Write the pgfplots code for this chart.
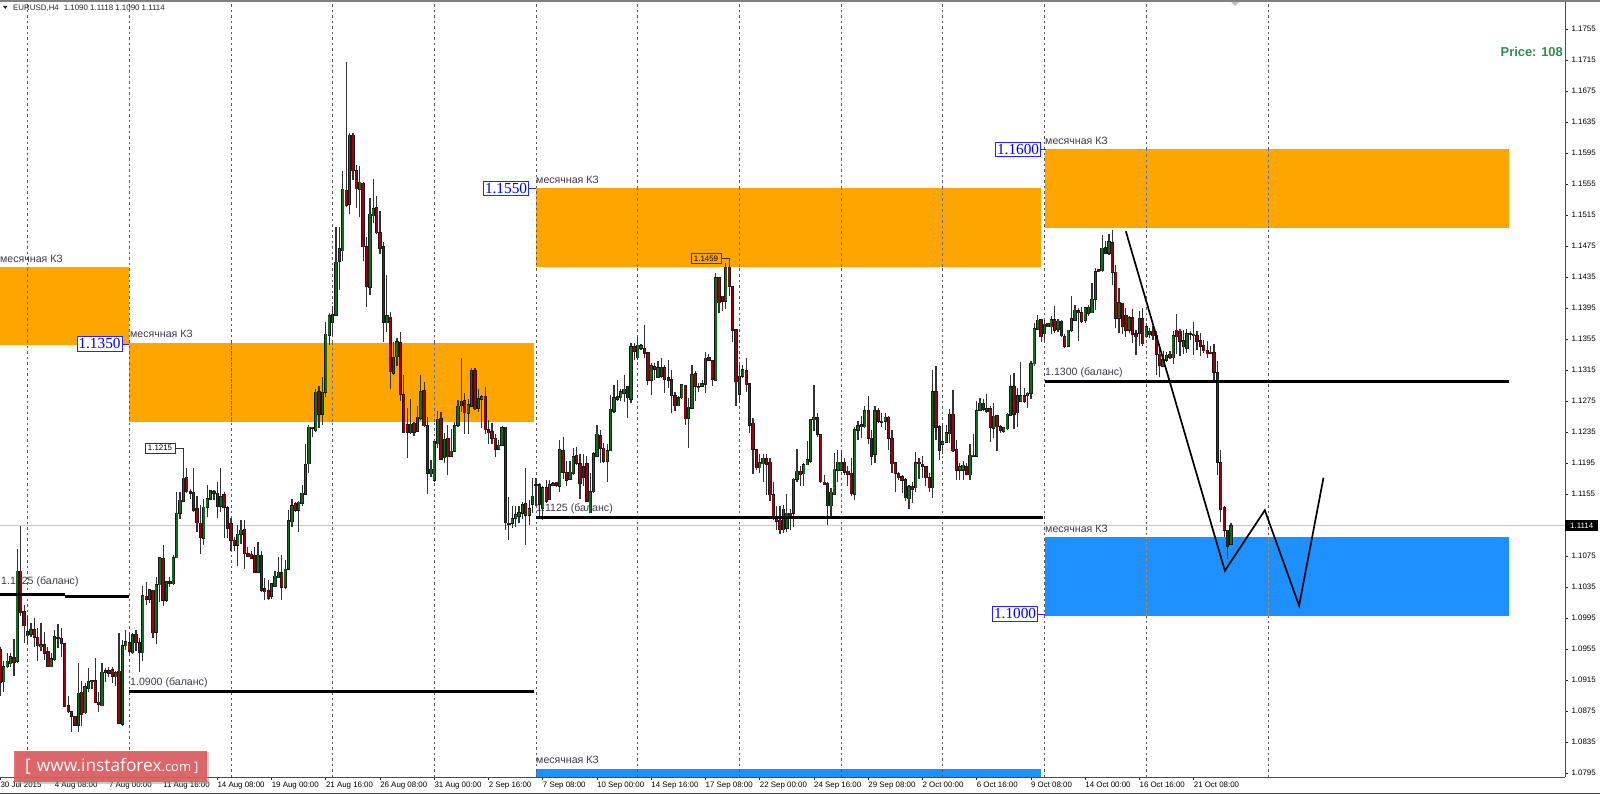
\documentclass[border=0pt]{standalone}
\usepackage{pgfplots}
\usepackage{pgfplotstable}
\usepackage{fontspec}
\pgfplotsset{compat=1.18}
\setmainfont{Liberation Sans}
\newfontfamily\serifbox{Liberation Serif}
\newfontfamily\logofont{Open Sans}
\definecolor{zoneo}{HTML}{FFA500}
\definecolor{zoneb}{HTML}{1E90FF}
\definecolor{upc}{HTML}{0B6F18}
\definecolor{dnc}{HTML}{A0000C}
\definecolor{txt}{HTML}{3F3A4A}
\definecolor{plabel}{HTML}{2E8B57}
\definecolor{bann}{HTML}{DE5A5E}
\definecolor{sepb}{HTML}{4A6FA8}
\definecolor{sepo}{HTML}{C8873A}
\newcommand{\tickf}{\fontsize{7.9}{9}\selectfont}
\newcommand{\lblf}{\fontsize{10.6}{12}\selectfont}
\newcommand{\boxf}{\serifbox\fontsize{15.3}{16}\selectfont}
\pgfplotstableread{
i o h l c
0 1.0954 1.0958 1.0894 1.0912
1 1.0913 1.0939 1.0900 1.0932
2 1.0932 1.0950 1.0930 1.0939
3 1.0936 1.0950 1.0932 1.0945
4 1.0944 1.0968 1.0920 1.0938
5 1.0939 1.1084 1.0937 1.1055
6 1.1055 1.1114 1.0997 1.1002
7 1.1003 1.1012 1.0963 1.0985
8 1.0972 1.0997 1.0962 1.0977
9 1.0974 1.0988 1.0971 1.0980
10 1.0980 1.0995 1.0957 1.0970
11 1.0970 1.0982 1.0940 1.0959
12 1.0958 1.0988 1.0952 1.0960
13 1.0960 1.0977 1.0941 1.0949
14 1.0951 1.0958 1.0932 1.0932
15 1.0932 1.0950 1.0932 1.0942
16 1.0941 1.0980 1.0940 1.0971
17 1.0970 1.0987 1.0956 1.0969
18 1.0969 1.0982 1.0945 1.0962
19 1.0962 1.0962 1.0880 1.0881
20 1.0882 1.0894 1.0872 1.0874
21 1.0874 1.0874 1.0848 1.0868
22 1.0868 1.0868 1.0855 1.0857
23 1.0857 1.0937 1.0848 1.0898
24 1.0899 1.0914 1.0855 1.0870
25 1.0873 1.0911 1.0871 1.0906
26 1.0904 1.0930 1.0900 1.0913
27 1.0913 1.0914 1.0904 1.0914
28 1.0914 1.0944 1.0885 1.0886
29 1.0886 1.0900 1.0874 1.0883
30 1.0882 1.0937 1.0882 1.0925
31 1.0925 1.0930 1.0913 1.0927
32 1.0927 1.0932 1.0919 1.0924
33 1.0928 1.0932 1.0911 1.0920
34 1.0919 1.0926 1.0907 1.0924
35 1.0926 1.0975 1.0859 1.0859
36 1.0858 1.0967 1.0855 1.0959
37 1.0959 1.0980 1.0954 1.0964
38 1.0963 1.0975 1.0949 1.0952
39 1.0950 1.0975 1.0949 1.0973
40 1.0974 1.0980 1.0952 1.0963
41 1.0963 1.0969 1.0925 1.0950
42 1.0950 1.1036 1.0939 1.1024
43 1.1023 1.1042 1.1012 1.1019
44 1.1019 1.1032 1.1014 1.1031
45 1.1030 1.1030 1.0969 1.0976
46 1.0977 1.1048 1.0961 1.1038
47 1.1038 1.1073 1.1016 1.1073
48 1.1072 1.1089 1.1010 1.1018
49 1.1018 1.1042 1.1016 1.1042
50 1.1042 1.1048 1.1035 1.1040
51 1.1039 1.1076 1.1038 1.1073
52 1.1073 1.1158 1.1072 1.1130
53 1.1130 1.1158 1.1123 1.1147
54 1.1146 1.1184 1.1144 1.1175
55 1.1176 1.1188 1.1156 1.1158
56 1.1158 1.1162 1.1149 1.1156
57 1.1157 1.1189 1.1132 1.1134
58 1.1136 1.1152 1.1106 1.1118
59 1.1117 1.1141 1.1078 1.1099
60 1.1098 1.1149 1.1089 1.1138
61 1.1138 1.1167 1.1125 1.1149
62 1.1148 1.1160 1.1147 1.1159
63 1.1156 1.1160 1.1147 1.1158
64 1.1156 1.1171 1.1124 1.1139
65 1.1139 1.1188 1.1132 1.1151
66 1.1154 1.1158 1.1098 1.1138
67 1.1137 1.1139 1.1098 1.1111
68 1.1117 1.1124 1.1081 1.1095
69 1.1095 1.1100 1.1081 1.1089
70 1.1089 1.1115 1.1062 1.1103
71 1.1103 1.1122 1.1091 1.1108
72 1.1109 1.1122 1.1058 1.1078
73 1.1078 1.1087 1.1074 1.1075
74 1.1077 1.1081 1.1072 1.1072
75 1.1075 1.1087 1.1053 1.1054
76 1.1054 1.1093 1.1053 1.1076
77 1.1075 1.1081 1.1029 1.1031
78 1.1033 1.1046 1.1018 1.1029
79 1.1030 1.1044 1.1018 1.1020
80 1.1023 1.1040 1.1020 1.1039
81 1.1036 1.1055 1.1035 1.1049
82 1.1047 1.1074 1.1046 1.1054
83 1.1053 1.1076 1.1018 1.1035
84 1.1035 1.1070 1.1033 1.1058
85 1.1058 1.1134 1.1057 1.1120
86 1.1119 1.1148 1.1113 1.1140
87 1.1142 1.1145 1.1132 1.1134
88 1.1134 1.1146 1.1106 1.1144
89 1.1143 1.1167 1.1139 1.1156
90 1.1155 1.1220 1.1154 1.1193
91 1.1194 1.1244 1.1182 1.1241
92 1.1240 1.1242 1.1228 1.1241
93 1.1237 1.1290 1.1235 1.1286
94 1.1287 1.1294 1.1240 1.1258
95 1.1258 1.1306 1.1244 1.1286
96 1.1286 1.1377 1.1280 1.1361
97 1.1360 1.1388 1.1347 1.1385
98 1.1376 1.1398 1.1360 1.1386
99 1.1386 1.1499 1.1384 1.1454
100 1.1455 1.1500 1.1418 1.1471
101 1.1469 1.1572 1.1456 1.1548
102 1.1547 1.1712 1.1525 1.1527
103 1.1529 1.1621 1.1516 1.1618
104 1.1618 1.1621 1.1560 1.1572
105 1.1572 1.1580 1.1524 1.1549
106 1.1548 1.1578 1.1512 1.1557
107 1.1556 1.1557 1.1455 1.1474
108 1.1474 1.1487 1.1396 1.1423
109 1.1422 1.1537 1.1412 1.1516
110 1.1514 1.1561 1.1504 1.1523
111 1.1524 1.1540 1.1491 1.1492
112 1.1492 1.1520 1.1464 1.1472
113 1.1474 1.1480 1.1351 1.1377
114 1.1376 1.1438 1.1364 1.1385
115 1.1383 1.1390 1.1291 1.1313
116 1.1311 1.1351 1.1308 1.1331
117 1.1332 1.1356 1.1320 1.1351
118 1.1350 1.1364 1.1275 1.1283
119 1.1283 1.1308 1.1235 1.1235
120 1.1244 1.1266 1.1202 1.1235
121 1.1234 1.1278 1.1233 1.1245
122 1.1246 1.1248 1.1230 1.1235
123 1.1236 1.1268 1.1235 1.1253
124 1.1253 1.1309 1.1250 1.1287
125 1.1288 1.1300 1.1242 1.1243
126 1.1243 1.1254 1.1155 1.1182
127 1.1181 1.1199 1.1177 1.1187
128 1.1173 1.1222 1.1171 1.1222
129 1.1220 1.1262 1.1214 1.1251
130 1.1252 1.1261 1.1199 1.1200
131 1.1202 1.1234 1.1195 1.1225
132 1.1227 1.1244 1.1179 1.1203
133 1.1204 1.1239 1.1203 1.1210
134 1.1210 1.1248 1.1210 1.1243
135 1.1244 1.1276 1.1242 1.1268
136 1.1269 1.1331 1.1261 1.1274
137 1.1275 1.1285 1.1232 1.1260
138 1.1259 1.1278 1.1233 1.1270
139 1.1268 1.1318 1.1267 1.1314
140 1.1314 1.1318 1.1263 1.1265
141 1.1266 1.1290 1.1261 1.1278
142 1.1277 1.1283 1.1240 1.1280
143 1.1281 1.1293 1.1233 1.1238
144 1.1238 1.1250 1.1220 1.1234
145 1.1235 1.1247 1.1220 1.1227
146 1.1227 1.1233 1.1203 1.1213
147 1.1213 1.1224 1.1212 1.1218
148 1.1218 1.1243 1.1217 1.1240
149 1.1241 1.1242 1.1109 1.1118
150 1.1117 1.1151 1.1096 1.1116
151 1.1117 1.1139 1.1111 1.1123
152 1.1124 1.1139 1.1113 1.1128
153 1.1126 1.1139 1.1117 1.1131
154 1.1130 1.1145 1.1123 1.1141
155 1.1142 1.1189 1.1089 1.1128
156 1.1128 1.1147 1.1115 1.1136
157 1.1142 1.1176 1.1130 1.1152
158 1.1167 1.1176 1.1139 1.1166
159 1.1167 1.1169 1.1126 1.1141
160 1.1137 1.1165 1.1122 1.1163
161 1.1163 1.1173 1.1143 1.1146
162 1.1148 1.1173 1.1147 1.1167
163 1.1166 1.1171 1.1165 1.1168
164 1.1170 1.1171 1.1164 1.1166
165 1.1165 1.1225 1.1158 1.1212
166 1.1211 1.1229 1.1174 1.1183
167 1.1183 1.1197 1.1165 1.1173
168 1.1174 1.1197 1.1173 1.1183
169 1.1182 1.1214 1.1180 1.1203
170 1.1204 1.1216 1.1193 1.1195
171 1.1194 1.1206 1.1148 1.1169
172 1.1190 1.1206 1.1165 1.1176
173 1.1194 1.1204 1.1144 1.1146
174 1.1131 1.1182 1.1131 1.1158
175 1.1158 1.1209 1.1156 1.1207
176 1.1204 1.1244 1.1204 1.1232
177 1.1230 1.1238 1.1195 1.1214
178 1.1214 1.1221 1.1195 1.1197
179 1.1197 1.1219 1.1171 1.1211
180 1.1211 1.1283 1.1210 1.1264
181 1.1262 1.1296 1.1260 1.1279
182 1.1277 1.1302 1.1275 1.1280
183 1.1279 1.1290 1.1275 1.1287
184 1.1285 1.1309 1.1274 1.1290
185 1.1293 1.1294 1.1253 1.1279
186 1.1277 1.1350 1.1272 1.1345
187 1.1345 1.1350 1.1328 1.1339
188 1.1331 1.1358 1.1328 1.1347
189 1.1343 1.1348 1.1341 1.1346
190 1.1342 1.1373 1.1330 1.1337
191 1.1337 1.1338 1.1296 1.1302
192 1.1302 1.1324 1.1283 1.1320
193 1.1319 1.1324 1.1302 1.1316
194 1.1306 1.1326 1.1305 1.1318
195 1.1307 1.1330 1.1305 1.1318
196 1.1318 1.1322 1.1285 1.1303
197 1.1305 1.1328 1.1292 1.1302
198 1.1302 1.1315 1.1259 1.1282
199 1.1282 1.1286 1.1262 1.1269
200 1.1269 1.1281 1.1268 1.1279
201 1.1279 1.1297 1.1278 1.1296
202 1.1295 1.1296 1.1244 1.1252
203 1.1253 1.1279 1.1214 1.1267
204 1.1266 1.1321 1.1266 1.1309
205 1.1310 1.1314 1.1275 1.1294
206 1.1292 1.1298 1.1286 1.1293
207 1.1294 1.1302 1.1293 1.1297
208 1.1297 1.1338 1.1285 1.1330
209 1.1331 1.1335 1.1326 1.1328
210 1.1327 1.1328 1.1294 1.1303
211 1.1302 1.1440 1.1302 1.1434
212 1.1434 1.1435 1.1388 1.1402
213 1.1410 1.1411 1.1391 1.1404
214 1.1404 1.1453 1.1394 1.1447
215 1.1447 1.1459 1.1410 1.1423
216 1.1422 1.1423 1.1351 1.1366
217 1.1367 1.1368 1.1269 1.1300
218 1.1284 1.1322 1.1272 1.1307
219 1.1307 1.1321 1.1305 1.1315
220 1.1314 1.1330 1.1287 1.1296
221 1.1297 1.1298 1.1234 1.1244
222 1.1246 1.1253 1.1181 1.1213
223 1.1212 1.1213 1.1186 1.1189
224 1.1189 1.1206 1.1182 1.1195
225 1.1194 1.1207 1.1171 1.1201
226 1.1201 1.1206 1.1154 1.1193
227 1.1196 1.1201 1.1146 1.1154
228 1.1154 1.1170 1.1122 1.1123
229 1.1123 1.1139 1.1109 1.1120
230 1.1121 1.1139 1.1103 1.1109
231 1.1109 1.1141 1.1104 1.1135
232 1.1111 1.1155 1.1106 1.1130
233 1.1130 1.1135 1.1108 1.1126
234 1.1130 1.1176 1.1113 1.1174
235 1.1174 1.1213 1.1171 1.1184
236 1.1184 1.1191 1.1165 1.1180
237 1.1181 1.1195 1.1165 1.1193
238 1.1193 1.1223 1.1192 1.1199
239 1.1197 1.1251 1.1195 1.1251
240 1.1251 1.1296 1.1236 1.1254
241 1.1253 1.1260 1.1229 1.1232
242 1.1231 1.1233 1.1169 1.1171
243 1.1170 1.1180 1.1167 1.1168
244 1.1169 1.1171 1.1115 1.1140
245 1.1140 1.1163 1.1124 1.1157
246 1.1155 1.1208 1.1154 1.1187
247 1.1186 1.1212 1.1171 1.1196
248 1.1186 1.1212 1.1184 1.1196
249 1.1196 1.1201 1.1180 1.1183
250 1.1184 1.1191 1.1165 1.1180
251 1.1181 1.1201 1.1152 1.1156
252 1.1155 1.1242 1.1147 1.1238
253 1.1237 1.1249 1.1224 1.1243
254 1.1242 1.1255 1.1227 1.1244
255 1.1242 1.1268 1.1240 1.1262
256 1.1262 1.1282 1.1219 1.1227
257 1.1227 1.1238 1.1193 1.1204
258 1.1206 1.1268 1.1195 1.1262
259 1.1262 1.1266 1.1247 1.1249
260 1.1248 1.1260 1.1242 1.1249
261 1.1249 1.1260 1.1238 1.1254
262 1.1254 1.1256 1.1212 1.1227
263 1.1227 1.1238 1.1182 1.1194
264 1.1195 1.1196 1.1157 1.1182
265 1.1181 1.1183 1.1173 1.1177
266 1.1177 1.1179 1.1156 1.1173
267 1.1173 1.1176 1.1146 1.1150
268 1.1149 1.1167 1.1136 1.1164
269 1.1164 1.1171 1.1143 1.1161
270 1.1163 1.1209 1.1158 1.1195
271 1.1196 1.1201 1.1174 1.1194
272 1.1193 1.1204 1.1176 1.1190
273 1.1190 1.1191 1.1165 1.1176
274 1.1176 1.1182 1.1158 1.1163
275 1.1163 1.1315 1.1150 1.1287
276 1.1287 1.1320 1.1225 1.1241
277 1.1242 1.1244 1.1199 1.1211
278 1.1219 1.1247 1.1206 1.1222
279 1.1222 1.1244 1.1221 1.1234
280 1.1233 1.1264 1.1221 1.1258
281 1.1258 1.1289 1.1209 1.1211
282 1.1212 1.1225 1.1173 1.1186
283 1.1186 1.1195 1.1173 1.1190
284 1.1186 1.1197 1.1173 1.1192
285 1.1190 1.1195 1.1179 1.1180
286 1.1180 1.1220 1.1173 1.1205
287 1.1204 1.1233 1.1204 1.1205
288 1.1204 1.1275 1.1204 1.1262
289 1.1263 1.1279 1.1262 1.1272
290 1.1272 1.1277 1.1262 1.1264
291 1.1265 1.1284 1.1260 1.1262
292 1.1265 1.1268 1.1222 1.1241
293 1.1240 1.1273 1.1227 1.1255
294 1.1256 1.1257 1.1211 1.1242
295 1.1242 1.1244 1.1234 1.1237
296 1.1236 1.1242 1.1234 1.1240
297 1.1239 1.1260 1.1238 1.1258
298 1.1257 1.1309 1.1255 1.1293
299 1.1293 1.1311 1.1239 1.1258
300 1.1260 1.1292 1.1242 1.1282
301 1.1275 1.1325 1.1275 1.1282
302 1.1282 1.1292 1.1272 1.1275
303 1.1282 1.1287 1.1266 1.1285
304 1.1285 1.1326 1.1278 1.1323
305 1.1323 1.1376 1.1320 1.1368
306 1.1368 1.1386 1.1368 1.1379
307 1.1380 1.1381 1.1351 1.1358
308 1.1362 1.1380 1.1352 1.1374
309 1.1375 1.1376 1.1370 1.1371
310 1.1371 1.1384 1.1361 1.1380
311 1.1380 1.1397 1.1363 1.1366
312 1.1368 1.1381 1.1364 1.1378
313 1.1378 1.1380 1.1358 1.1359
314 1.1358 1.1361 1.1343 1.1346
315 1.1346 1.1367 1.1345 1.1366
316 1.1366 1.1411 1.1364 1.1381
317 1.1379 1.1399 1.1378 1.1392
318 1.1391 1.1395 1.1353 1.1389
319 1.1389 1.1396 1.1376 1.1378
320 1.1379 1.1396 1.1376 1.1395
321 1.1388 1.1399 1.1385 1.1396
322 1.1389 1.1427 1.1388 1.1406
323 1.1406 1.1447 1.1392 1.1442
324 1.1444 1.1445 1.1442 1.1442
325 1.1443 1.1489 1.1442 1.1472
326 1.1473 1.1482 1.1465 1.1466
327 1.1466 1.1491 1.1463 1.1480
328 1.1479 1.1495 1.1425 1.1441
329 1.1441 1.1451 1.1369 1.1382
330 1.1382 1.1421 1.1363 1.1402
331 1.1401 1.1402 1.1361 1.1371
332 1.1385 1.1395 1.1358 1.1366
333 1.1366 1.1384 1.1363 1.1382
334 1.1382 1.1394 1.1350 1.1361
335 1.1362 1.1367 1.1334 1.1358
336 1.1362 1.1391 1.1346 1.1381
337 1.1381 1.1395 1.1346 1.1349
338 1.1358 1.1376 1.1356 1.1371
339 1.1361 1.1369 1.1356 1.1365
340 1.1365 1.1372 1.1354 1.1359
341 1.1359 1.1365 1.1308 1.1335
342 1.1335 1.1343 1.1306 1.1321
343 1.1320 1.1339 1.1319 1.1328
344 1.1328 1.1338 1.1325 1.1334
345 1.1335 1.1339 1.1329 1.1331
346 1.1331 1.1365 1.1323 1.1359
347 1.1366 1.1387 1.1336 1.1358
348 1.1365 1.1368 1.1333 1.1352
349 1.1345 1.1367 1.1336 1.1353
350 1.1343 1.1368 1.1337 1.1362
351 1.1362 1.1365 1.1354 1.1361
352 1.1359 1.1377 1.1334 1.1361
353 1.1359 1.1365 1.1341 1.1352
354 1.1353 1.1363 1.1333 1.1346
355 1.1346 1.1354 1.1337 1.1340
356 1.1340 1.1352 1.1331 1.1336
357 1.1338 1.1346 1.1335 1.1336
358 1.1337 1.1348 1.1298 1.1312
359 1.1311 1.1326 1.1179 1.1196
360 1.1195 1.1212 1.1119 1.1135
361 1.1137 1.1139 1.1100 1.1108
362 1.1108 1.1109 1.1071 1.1088
363 1.1090 1.1118 1.1090 1.1114
}\candles
\pgfplotsset{chartdims/.style={scale only axis, width=1565pt, height=775pt,
  xmin=-0.118, xmax=461.55, ymin=1.07898, ymax=1.17898,
  at={(0pt,-777pt)}, anchor=south west}}
\begin{document}
\begin{tikzpicture}
\useasboundingbox (0pt,0pt) rectangle (1600pt,-794pt);
% zones, separators, price line
\begin{axis}[chartdims, hide axis]
\addplot[fill=zoneo,draw=none] coordinates {(-0.118,1.1347)(38,1.1347)(38,1.1448)(-0.118,1.1448)} --cycle;
\addplot[fill=zoneo,draw=none] coordinates {(38,1.1248)(157.4,1.1248)(157.4,1.135)(38,1.135)} --cycle;
\addplot[fill=zoneo,draw=none] coordinates {(158,1.1448)(307,1.1448)(307,1.155)(158,1.155)} --cycle;
\addplot[fill=zoneo,draw=none] coordinates {(308,1.1498)(445,1.1498)(445,1.16)(308,1.16)} --cycle;
\addplot[fill=zoneb,draw=none] coordinates {(308,1.0998)(445,1.0998)(445,1.11)(308,1.11)} --cycle;
\addplot[fill=zoneb,draw=none] coordinates {(158,1.07898)(307,1.07898)(307,1.08)(158,1.08)} --cycle;
\addplot[color=black!22,line width=1.3pt] coordinates {(-0.118,1.1114)(461.55,1.1114)};
\pgfplotsinvokeforeach{8,38,68,98,128,158,188,218,248,278,308,338,374}{
  \addplot[color=black!65,line width=0.8pt,dash pattern=on 2.5pt off 3pt] coordinates {(#1,1.07898)(#1,1.17898)};
}
\pgfplotsinvokeforeach{68,98,128}{
  \addplot[color=zoneo,line width=1pt] coordinates {(#1,1.1248)(#1,1.135)};
  \addplot[color=sepb,line width=0.8pt,dash pattern=on 2.5pt off 3pt] coordinates {(#1,1.1248)(#1,1.135)};
}
\pgfplotsinvokeforeach{188,218,248,278}{
  \addplot[color=zoneo,line width=1pt] coordinates {(#1,1.1448)(#1,1.155)};
  \addplot[color=sepb,line width=0.8pt,dash pattern=on 2.5pt off 3pt] coordinates {(#1,1.1448)(#1,1.155)};
}
\pgfplotsinvokeforeach{338,374}{
  \addplot[color=zoneo,line width=1pt] coordinates {(#1,1.1498)(#1,1.16)};
  \addplot[color=sepb,line width=0.8pt,dash pattern=on 2.5pt off 3pt] coordinates {(#1,1.1498)(#1,1.16)};
  \addplot[color=zoneb,line width=1pt] coordinates {(#1,1.0998)(#1,1.11)};
  \addplot[color=sepo,line width=0.8pt,dash pattern=on 2.5pt off 3pt] coordinates {(#1,1.0998)(#1,1.11)};
}
\end{axis}
% texts that lie under the candles
\begin{scope}[every node/.style={inner sep=0pt, anchor=west, text=txt, font=\lblf}]
\node at (0pt,-259pt) {месячная КЗ};
\node at (130pt,-334pt) {месячная КЗ};
\node at (536pt,-180pt) {месячная КЗ};
\node at (1045pt,-141pt) {месячная КЗ};
\node at (1045pt,-529pt) {месячная КЗ};
\node at (536pt,-760pt) {месячная КЗ};
\node at (1pt,-582pt) {1.1025 (баланс)};
\node at (130pt,-683pt) {1.0900 (баланс)};
\node at (536pt,-509pt) {1.1125 (баланс)};
\node at (1045pt,-373pt) {1.1300 (баланс)};
\end{scope}
% candles, levels, axis
\begin{axis}[chartdims,
  axis x line=bottom, axis y line=right, axis line style={-,draw=black!70,line width=1pt},
  tick style={black!85,line width=0.8pt}, tick align=outside, major tick length=3pt,
  xtick={0,16,32,48,64,80,96,112,128,144,160,176,192,208,224,240,256,272,288,304,320,336,352},
  xticklabels={30 Jul 2015,4 Aug 08:00,7 Aug 00:00,11 Aug 16:00,14 Aug 08:00,19 Aug 00:00,21 Aug 16:00,26 Aug 08:00,31 Aug 00:00,2 Sep 16:00,7 Sep 08:00,10 Sep 00:00,14 Sep 16:00,17 Sep 08:00,22 Sep 00:00,24 Sep 16:00,29 Sep 08:00,2 Oct 00:00,6 Oct 16:00,9 Oct 08:00,14 Oct 00:00,16 Oct 16:00,21 Oct 08:00},
  xticklabel style={anchor=north west, font=\tickf, inner xsep=0pt, inner ysep=0pt, yshift=-1.5pt, xshift=0pt},
  ytick={1.0795,1.0835,1.0875,1.0915,1.0955,1.0995,1.1035,1.1075,1.1115,1.1155,1.1195,1.1235,1.1275,1.1315,1.1355,1.1395,1.1435,1.1475,1.1515,1.1555,1.1595,1.1635,1.1675,1.1715,1.1755},
  yticklabel style={font=\tickf, /pgf/number format/.cd, fixed, fixed zerofill, precision=4, assume math mode=true},
  scaled y ticks=false]
\addplot[draw=none,forget plot,error bars/.cd,y dir=plus,y explicit,error mark=none,error bar style={black!80,line width=1.2pt}]
  table[x=i,y=l,y error expr=\thisrow{h}-\thisrow{l}] {\candles};
% bull bodies
\addplot[draw=none,forget plot,error bars/.cd,y dir=plus,y explicit,error mark=none,error bar style={black!90,line width=3.3pt}]
  table[x expr={\thisrow{c}>=\thisrow{o} ? \thisrow{i} : nan},y expr=\thisrow{o}-0.00008,y error expr=\thisrow{c}-\thisrow{o}+0.00016] {\candles};
\addplot[draw=none,forget plot,error bars/.cd,y dir=plus,y explicit,error mark=none,error bar style={upc,line width=1.7pt}]
  table[x expr={\thisrow{c}>=\thisrow{o} ? \thisrow{i} : nan},y=o,y error expr=\thisrow{c}-\thisrow{o}] {\candles};
% bear bodies
\addplot[draw=none,forget plot,error bars/.cd,y dir=plus,y explicit,error mark=none,error bar style={black!90,line width=3.3pt}]
  table[x expr={\thisrow{c}<\thisrow{o} ? \thisrow{i} : nan},y expr=\thisrow{c}-0.00008,y error expr=\thisrow{o}-\thisrow{c}+0.00016] {\candles};
\addplot[draw=none,forget plot,error bars/.cd,y dir=plus,y explicit,error mark=none,error bar style={dnc,line width=1.7pt}]
  table[x expr={\thisrow{c}<\thisrow{o} ? \thisrow{i} : nan},y=c,y error expr=\thisrow{o}-\thisrow{c}] {\candles};
% balance levels
\addplot[black,line width=2.6pt] coordinates {(-0.118,1.1025)(19,1.1025)};
\addplot[black,line width=2.6pt] coordinates {(19,1.1023)(38,1.1023)};
\addplot[black,line width=2.6pt] coordinates {(38,1.0900)(157.4,1.0900)};
\addplot[black,line width=2.6pt] coordinates {(158,1.1125)(307.5,1.1125)};
\addplot[black,line width=2.6pt] coordinates {(308,1.1300)(445,1.1300)};
% projected path
\addplot[black,line width=1.7pt] coordinates {(332,1.1494)(361.2,1.1056)(373,1.1134)(383.1,1.1011)(390.3,1.1176)};
\end{axis}
% decorations
\fill[black!50] (0pt,0pt) rectangle (1600pt,-2pt);
\fill[black!75] (0pt,-792.5pt) rectangle (1600pt,-794pt);
\fill[black!25] (1231pt,-2pt) -- (1239pt,-2pt) -- (1235pt,-6pt) -- cycle;
\fill[black!85] (3pt,-6pt) -- (7.5pt,-6pt) -- (5.25pt,-9pt) -- cycle;
\node[anchor=west,inner sep=0pt,font=\tickf,text=black!85] at (13pt,-8pt) {EURUSD,H4\hspace{5pt}1.1090 1.1118 1.1090 1.1114};
\node[anchor=east,inner sep=0pt,text=plabel,font=\fontsize{12.9}{14}\selectfont\bfseries] at (1563pt,-52pt) {Price: 108};
% current price tag
\node[anchor=west,fill=black,text=white,font=\tickf,inner xsep=5pt,inner ysep=0pt,minimum height=11pt] at (1565pt,-525.5pt) {1.1114};
% level tags
\begin{scope}[every node/.style={anchor=east,fill=white,draw=blue!85,line width=0.9pt,text=blue!90!black,font=\boxf,inner xsep=1pt,inner ysep=0pt,minimum height=14.5pt,minimum width=45pt}]
\draw[blue!85,line width=1pt] (122pt,-344pt) -- (129pt,-344pt);
\node at (122.5pt,-344pt) {1.1350};
\draw[blue!85,line width=1pt] (529pt,-188.5pt) -- (536pt,-188.5pt);
\node at (529pt,-188.5pt) {1.1550};
\draw[blue!85,line width=1pt] (1040pt,-149.5pt) -- (1046pt,-149.5pt);
\node at (1041pt,-149.5pt) {1.1600};
\draw[blue!85,line width=1pt] (1037pt,-614pt) -- (1045pt,-614pt);
\node at (1038pt,-614pt) {1.1000};
\end{scope}
% extreme labels
\draw[black!80,line width=0.9pt] (175pt,-448pt) -- (183pt,-448pt) -- (183pt,-478pt);
\node[anchor=center,draw=black!80,fill=white,line width=0.9pt,font=\tickf,inner xsep=1.5pt,inner ysep=0pt,minimum height=10pt,text width=27pt,align=center] at (160pt,-448pt) {1.1215};
\draw[black!80,line width=0.9pt] (721.5pt,-258.5pt) -- (729pt,-258.5pt) -- (729pt,-267pt);
\node[anchor=center,draw=black!80,line width=0.9pt,font=\tickf,inner xsep=1.5pt,inner ysep=0pt,minimum height=10pt,text width=27pt,align=center] at (706pt,-258.5pt) {1.1459};
% banner
\fill[black!40,opacity=0.5] (16pt,-752pt) rectangle (209pt,-784pt);
\fill[bann,opacity=0.88] (14pt,-750.5pt) rectangle (207pt,-782pt);
\node[anchor=west,inner sep=0pt,text=white,font=\logofont\fontsize{17.3}{21}\selectfont] at (25pt,-766pt) {[\hspace{6pt}www.instaforex{\fontsize{13}{16}\selectfont .com}\hspace{3pt}{\fontsize{13}{16}\selectfont ]}};
\end{tikzpicture}
\end{document}
